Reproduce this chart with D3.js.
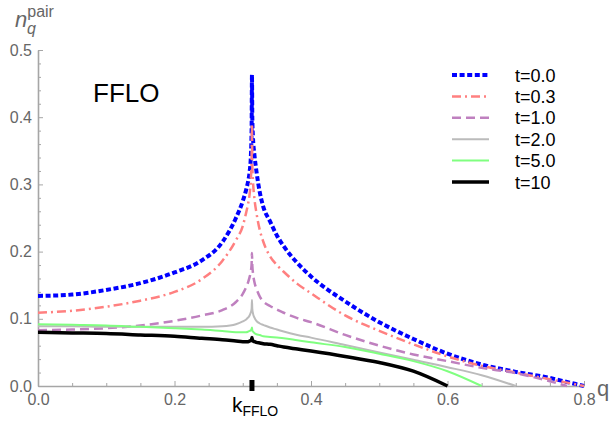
<!DOCTYPE html>
<html><head><meta charset="utf-8">
<script src="https://cdn.jsdelivr.net/npm/d3@7"></script>
<style>body{margin:0;background:#fff}svg{display:block}</style>
</head><body>
<svg id="c" width="611" height="429"></svg>
<script>
// shared q grid
const qGrid = [0, 0.05, 0.1, 0.15, 0.2, 0.24, 0.27, 0.29, 0.30, 0.305, 0.308, 0.31, 0.312, 0.313, 0.3135,
  0.314, 0.315, 0.317, 0.32, 0.325, 0.33, 0.34, 0.35, 0.36, 0.38, 0.40, 0.45, 0.5, 0.55, 0.6, 0.65, 0.7, 0.75, 0.775, 0.8];
const t00 = [0.134,0.136,0.143,0.153,0.169,0.187,0.214,0.25,0.275,0.292,0.305,0.318,0.345,0.385,0.463,
  0.40,0.37,0.345,0.32,0.288,0.267,0.245,0.224,0.208,0.183,0.163,0.126,0.095,0.07,0.048,0.032,0.021,0.012,0.006,0.0];
const t03 = [0.109,0.112,0.118,0.127,0.14,0.159,0.186,0.217,0.238,0.258,0.272,0.285,0.31,0.34,0.39,
  0.33,0.305,0.28,0.258,0.232,0.215,0.193,0.18,0.17,0.152,0.138,0.105,0.082,0.062,0.044,0.030,0.020,0.010,0.005,0.0];
const t10 = [0.083,0.084,0.086,0.09,0.097,0.105,0.113,0.125,0.137,0.147,0.155,0.162,0.172,0.182,0.198,
  0.18,0.168,0.155,0.145,0.133,0.126,0.119,0.114,0.109,0.101,0.095,0.076,0.06,0.047,0.037,0.027,0.019,0.007,0.0,null];
const t20 = [0.089,0.089,0.088,0.088,0.088,0.088,0.089,0.092,0.096,0.099,0.102,0.105,0.11,0.115,0.128,
  0.115,0.108,0.102,0.097,0.093,0.091,0.087,0.084,0.081,0.076,0.072,0.061,0.05,0.039,0.028,0.016,0.0,null,null,null];
const t50 = [0.092,0.091,0.09,0.088,0.086,0.084,0.082,0.08,0.08,0.08,0.081,0.082,0.083,0.085,0.087,
  0.083,0.081,0.079,0.077,0.076,0.074,0.073,0.072,0.071,0.068,0.065,0.058,0.048,0.037,0.022,0.0,null,null,null,null];
const t100 = [0.080,0.079,0.078,0.076,0.074,0.071,0.069,0.067,0.066,0.066,0.066,0.067,0.068,0.069,0.072,
  0.069,0.067,0.066,0.065,0.064,0.063,0.062,0.06,0.058,0.055,0.052,0.044,0.035,0.022,0.0,null,null,null,null,null];
const seriesNames = ["t=0.0","t=0.3","t=1.0","t=2.0","t=5.0","t=10"];
const seriesValues = [t00,t03,t10,t20,t50,t100];
const xMajorTicks = [0,0.2,0.4,0.6,0.8];
const yMajorTicks = [0,0.1,0.2,0.3,0.4,0.5];
const kFFLO = 0.3135;

const styles = [
  {color:"#0000ff", w:4, dash:"5,2.6"},
  {color:"#ff8080", w:2.5, dash:"9,4,2,4"},
  {color:"#bf80bf", w:2.5, dash:"9,5"},
  {color:"#bbbbbb", w:2, dash:null},
  {color:"#80ff80", w:2, dash:null},
  {color:"#000000", w:3.5, dash:null}
];

const svg = d3.select("#c");
const x = d3.scaleLinear().domain([0,0.8]).range([38,584]);
const y = d3.scaleLinear().domain([0,0.5]).range([386,50]);
const axisCol = "#a6a6a6", labCol = "#666";
const font = "'Liberation Sans', Arial, sans-serif";

// minor ticks
const xMinor = d3.range(0,0.801,0.05).filter(v=>!xMajorTicks.some(m=>Math.abs(m-v)<1e-6));
const yMinor = d3.range(0,0.501,0.02).filter(v=>!yMajorTicks.some(m=>Math.abs(m-v)<1e-6));

const gx = svg.append("g").attr("transform","translate(0,386)")
  .call(d3.axisBottom(x).tickValues(xMajorTicks).tickSizeInner(-5).tickSizeOuter(0).tickPadding(8).tickFormat(d3.format(".1f")));
const gxm = svg.append("g").attr("transform","translate(0,386)")
  .call(d3.axisBottom(x).tickValues(xMinor).tickSizeInner(-3).tickSizeOuter(0).tickFormat(""));
const gy = svg.append("g").attr("transform","translate(38,0)")
  .call(d3.axisLeft(y).tickValues(yMajorTicks).tickSizeInner(-5).tickSizeOuter(0).tickPadding(6).tickFormat(d3.format(".1f")));
const gym = svg.append("g").attr("transform","translate(38,0)")
  .call(d3.axisLeft(y).tickValues(yMinor).tickSizeInner(-3).tickSizeOuter(0).tickFormat(""));
[gx,gxm,gy,gym].forEach(g=>{
  g.select(".domain").attr("stroke",axisCol).attr("stroke-width",1.6);
  g.selectAll(".tick line").attr("stroke",axisCol).attr("stroke-width",1);
  g.selectAll(".tick text").attr("fill",labCol).style("font-family",font).style("font-size","16px");
});
gym.select(".domain").remove(); gxm.select(".domain").remove();

// curves
const line = d3.line().defined(d=>d[1]!==null).x(d=>x(d[0])).y(d=>y(d[1])).curve(d3.curveMonotoneX);
seriesValues.forEach((vals,i)=>{
  const pts = qGrid.map((q,j)=>[q,vals[j]]);
  const s = styles[i];
  svg.append("path").datum(pts).attr("d",line).attr("fill","none")
    .attr("stroke",s.color).attr("stroke-width",s.w)
    .attr("stroke-dasharray",s.dash).attr("stroke-linejoin","round");
});

// kFFLO marker
svg.append("line").attr("x1",x(kFFLO)).attr("x2",x(kFFLO)).attr("y1",380).attr("y2",391)
  .attr("stroke","#000").attr("stroke-width",5);
const kt = svg.append("text").attr("x",x(kFFLO)-20).attr("y",412).attr("fill","#000")
  .style("font-family",font).style("font-size","21px");
kt.append("tspan").text("k");
kt.append("tspan").attr("dy",4).style("font-size","14px").text("FFLO");

// axis labels
svg.append("text").attr("x",597).attr("y",396).attr("fill",labCol)
  .style("font-family",font).style("font-size","22px").text("q");
const yl = svg.append("text").attr("x",15).attr("y",27).attr("fill",labCol).style("font-family",font);
yl.append("tspan").style("font-size","22px").style("font-style","italic").text("n");
yl.append("tspan").attr("dy",-10).style("font-size","16px").text("pair");
svg.append("text").attr("x",27).attr("y",34).attr("fill",labCol).style("font-family",font)
  .style("font-size","16px").style("font-style","italic").text("q");

// FFLO label
svg.append("text").attr("x",93).attr("y",102).attr("fill","#000").style("font-family",font)
  .style("font-size","26px").text("FFLO");

// legend
const leg = svg.append("g");
seriesNames.forEach((n,i)=>{
  const yy = 75 + i*21.4, s = styles[i];
  leg.append("line").attr("x1",452).attr("x2",489).attr("y1",yy).attr("y2",yy)
    .attr("stroke",s.color).attr("stroke-width",s.w).attr("stroke-dasharray",s.dash);
  leg.append("text").attr("x",515).attr("y",yy+6.5).attr("fill","#000").style("font-family",font)
    .style("font-size","18px").text(n);
});
</script>
</body></html>
